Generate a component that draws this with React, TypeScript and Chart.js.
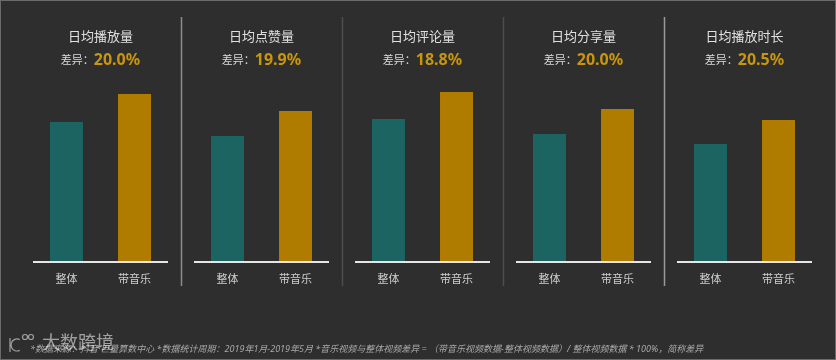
import React, { useEffect, useRef } from "react";
import { Chart, registerables } from "chart.js";

Chart.register(...registerables);

const metrics = ["日均播放量", "日均点赞量", "日均评论量", "日均分享量", "日均播放时长"];
const groups = ["整体", "带音乐"];
const overallValues = [140, 126, 143, 128, 118];
const musicValues = [168, 151, 170, 153, 142];
const diffLabels = ["20.0%", "19.9%", "18.8%", "20.0%", "20.5%"];
const diffPrefix = "差异：";
const footnote =
  "*数据来源：抖音·巨量算数中心 *数据统计周期：2019年1月-2019年5月 *音乐视频与整体视频差异 = （带音乐视频数据-整体视频数据）/ 整体视频数据 * 100%，简称差异";
const watermark = "大数跨境";

const BG = "#2e2e2e";
const TEAL = "#1b6462";
const GOLD = "#b07c00";
const GOLD_TEXT = "#c8950c";
const FONT = '"Noto Sans", "Noto Sans CJK SC", sans-serif';

const decorPlugin = {
  id: "decor",
  beforeDraw(chart: any) {
    const { ctx, width, height } = chart;
    ctx.save();
    ctx.fillStyle = BG;
    ctx.fillRect(0, 0, width, height);
    ctx.strokeStyle = "#6a6a6a";
    ctx.lineWidth = 1;
    ctx.strokeRect(0.5, 0.5, width - 1, height - 1);
    ctx.restore();
  },
  afterDatasetsDraw(chart: any) {
    const { ctx, chartArea } = chart;
    const xScale = chart.scales.x;
    const yScale = chart.scales.y;
    const baseY = yScale.getPixelForValue(0);
    const n = metrics.length;
    const step = (chartArea.right - chartArea.left) / n;
    ctx.save();
    // dividers
    const dividerColors = ["#8c8c8c", "#4e4e4e", "#4e4e4e", "#9a9a9a"];
    for (let i = 1; i < n; i++) {
      const x = Math.round(chartArea.left + step * i) + 0.5;
      ctx.strokeStyle = dividerColors[i - 1];
      ctx.lineWidth = 1.5;
      ctx.beginPath();
      ctx.moveTo(x, 17);
      ctx.lineTo(x, 286);
      ctx.stroke();
    }
    for (let j = 0; j < n; j++) {
      const cx = xScale.getPixelForValue(j);
      // baseline
      ctx.strokeStyle = "#e6e6e6";
      ctx.lineWidth = 2;
      ctx.beginPath();
      ctx.moveTo(cx - 67.5, baseY);
      ctx.lineTo(cx + 67.5, baseY);
      ctx.stroke();
      // category labels
      ctx.fillStyle = "#cfcfcf";
      ctx.font = `11px ${FONT}`;
      ctx.textAlign = "center";
      ctx.textBaseline = "middle";
      for (let d = 0; d < groups.length; d++) {
        const bar = chart.getDatasetMeta(d).data[j];
        ctx.fillText(groups[d], bar.x, 280);
      }
      // title
      ctx.fillStyle = "#e0e0e0";
      ctx.font = `13px ${FONT}`;
      ctx.fillText(metrics[j], cx, 37);
      // subtitle
      const prefixFont = `11px ${FONT}`;
      const valFont = `bold 16px ${FONT}`;
      ctx.font = prefixFont;
      const w1 = ctx.measureText(diffPrefix).width;
      ctx.font = valFont;
      const w2 = ctx.measureText(diffLabels[j]).width;
      const start = cx - (w1 + w2) / 2;
      ctx.textAlign = "left";
      ctx.font = prefixFont;
      ctx.fillStyle = "#dcdcdc";
      ctx.fillText(diffPrefix, start, 61);
      ctx.font = valFont;
      ctx.fillStyle = GOLD_TEXT;
      ctx.fillText(diffLabels[j], start + w1, 60);
    }
    // footnote
    ctx.textAlign = "left";
    ctx.textBaseline = "middle";
    ctx.font = `italic 9px ${FONT}`;
    ctx.fillStyle = "#a8a8a8";
    ctx.fillText(footnote, 30, 349);
    // watermark
    ctx.font = `18px ${FONT}`;
    ctx.fillStyle = "rgba(255,255,255,0.55)";
    ctx.fillText(watermark, 42, 344);
    ctx.strokeStyle = "rgba(255,255,255,0.55)";
    ctx.lineWidth = 1.2;
    ctx.beginPath();
    ctx.arc(17, 345, 6, Math.PI * 0.35, Math.PI * 1.65);
    ctx.stroke();
    ctx.beginPath();
    ctx.moveTo(10, 338);
    ctx.lineTo(10, 352);
    ctx.stroke();
    ctx.beginPath();
    ctx.arc(25, 337, 2.5, 0, Math.PI * 2);
    ctx.stroke();
    ctx.beginPath();
    ctx.arc(31, 337, 2.5, 0, Math.PI * 2);
    ctx.stroke();
    ctx.restore();
  },
};

export default function App() {
  const ref = useRef<HTMLCanvasElement>(null);
  useEffect(() => {
    document.body.style.margin = "0";
    document.body.style.background = BG;
    const canvas = ref.current!;
    const chart = new Chart(canvas, {
      type: "bar",
      data: {
        labels: metrics,
        datasets: [
          {
            label: groups[0],
            data: overallValues,
            backgroundColor: TEAL,
            categoryPercentage: 0.845,
            barPercentage: 0.485,
          },
          {
            label: groups[1],
            data: musicValues,
            backgroundColor: GOLD,
            categoryPercentage: 0.845,
            barPercentage: 0.485,
          },
        ],
      },
      options: {
        animation: false,
        responsive: false,
        devicePixelRatio: 1,
        layout: { padding: { left: 20, right: 11, top: 62, bottom: 98 } },
        plugins: { legend: { display: false }, tooltip: { enabled: false } },
        scales: {
          x: { display: false },
          y: { display: false, min: 0, max: 200 },
        },
      },
      plugins: [decorPlugin],
    });
    return () => chart.destroy();
  }, []);
  return <canvas ref={ref} width={836} height={360} style={{ display: "block" }} />;
}
